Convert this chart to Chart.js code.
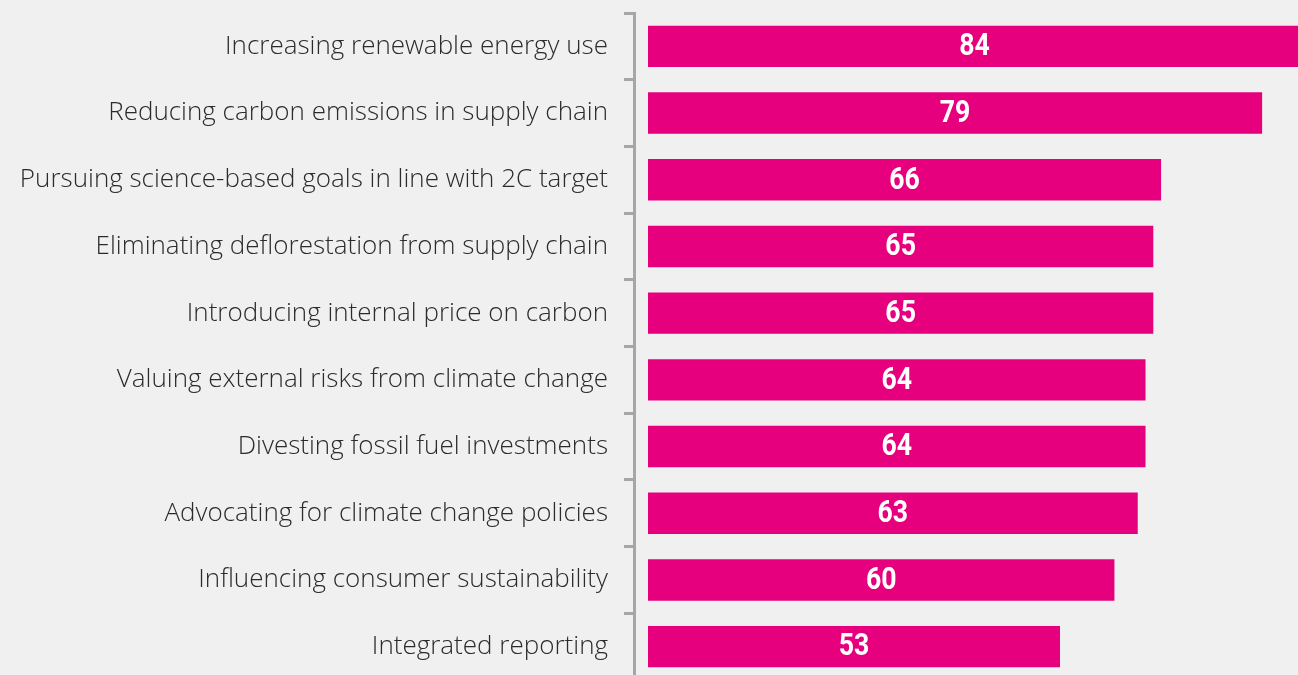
<!DOCTYPE html>
<html lang="en">
<head>
<meta charset="UTF-8">
<title>climate actions</title>
<style>
  html, body { margin: 0; padding: 0; background: #f0f0f0; overflow: hidden; }
  #wrap { position: relative; width: 1301px; height: 680px; }
</style>
</head>
<body>
<div id="wrap"><canvas id="barChart"></canvas></div>
<script src="https://cdn.jsdelivr.net/npm/chart.js"></script>
<script>
  const categories = [
    'Increasing renewable energy use',
    'Reducing carbon emissions in supply chain',
    'Pursuing science-based goals in line with 2C target',
    'Eliminating deflorestation from supply chain',
    'Introducing internal price on carbon',
    'Valuing external risks from climate change',
    'Divesting fossil fuel investments',
    'Advocating for climate change policies',
    'Influencing consumer sustainability',
    'Integrated reporting'
  ];
  const values = [84, 79, 66, 65, 65, 64, 64, 63, 60, 53];

  // white numbers centred inside each bar (squeezed a bit to look condensed)
  const valueLabels = {
    id: 'valueLabels',
    afterDatasetsDraw(chart) {
      const ctx = chart.ctx;
      const meta = chart.getDatasetMeta(0);
      meta.data.forEach((bar, i) => {
        const x = (bar.base + bar.x) / 2;
        ctx.save();
        ctx.translate(x, bar.y + 1);
        ctx.scale(0.86, 1);
        ctx.fillStyle = '#ffffff';
        ctx.font = 'bold 31px "Roboto", sans-serif';
        ctx.textAlign = 'center';
        ctx.textBaseline = 'middle';
        ctx.fillText(String(values[i]), 0, 0);
        ctx.restore();
      });
    }
  };

  const ctx = document.getElementById('barChart').getContext('2d');
  new Chart(ctx, {
    type: 'bar',
    data: {
      labels: categories,
      datasets: [{
        data: values,
        backgroundColor: '#e6007e',
        categoryPercentage: 0.62,
        barPercentage: 1
      }]
    },
    options: {
      indexAxis: 'y',
      responsive: true,
      maintainAspectRatio: false,
      animation: false,
      layout: { padding: { top: 13, right: 0, bottom: 0, left: 0 } },
      plugins: {
        legend: { display: false },
        tooltip: { enabled: false }
      },
      scales: {
        x: {
          display: false,
          min: -1.8,
          max: 84
        },
        y: {
          afterFit(scale) {
            scale.width = 634;
            scale.paddingTop = 0;
            scale.paddingBottom = 0;
          },
          border: { display: true, color: '#a6a6a6', width: 3 },
          grid: {
            offset: true,
            drawOnChartArea: false,
            drawTicks: true,
            tickLength: 10,
            color: '#a6a6a6',
            lineWidth: 3
          },
          ticks: {
            padding: 16,
            color: '#2b2b2b',
            font: { family: '"Open Sans"', weight: 300, size: 26 }
          }
        }
      }
    },
    plugins: [valueLabels]
  });
</script>
</body>
</html>
